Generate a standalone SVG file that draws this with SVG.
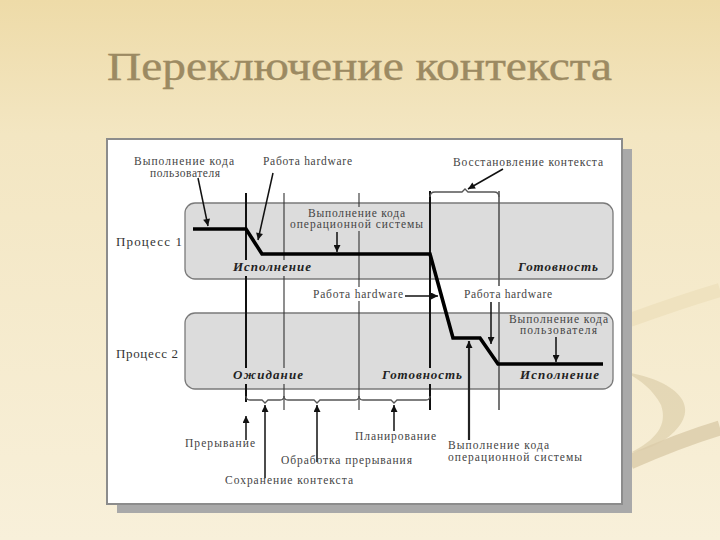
<svg xmlns="http://www.w3.org/2000/svg" width="720" height="540" viewBox="0 0 720 540">
<defs>
<linearGradient id="bg" x1="0" y1="0" x2="0" y2="1">
<stop offset="0" stop-color="#eedba8"/>
<stop offset="0.25" stop-color="#f3e6c2"/>
<stop offset="1" stop-color="#f8f0da"/>
</linearGradient>
<marker id="ah" viewBox="0 0 10 10" refX="10" refY="5" markerWidth="9" markerHeight="7" markerUnits="userSpaceOnUse" orient="auto">
<path d="M0,0 L10,5 L0,10 z" fill="#111"/>
</marker>
<style>
.lbl{font-family:"Liberation Serif","Times New Roman",serif;font-size:11.5px;fill:#444;}
.proc{font-family:"Liberation Serif","Times New Roman",serif;font-size:13px;fill:#333;}
.state{font-family:"Liberation Serif","Times New Roman",serif;font-size:13px;font-weight:bold;font-style:italic;fill:#222;}
.box{fill:#dcdcdc;stroke:#7a7a7a;stroke-width:1.3;}
.vthick{stroke:#111;stroke-width:2;fill:none;}
.vthin{stroke:#333;stroke-width:1.1;fill:none;}
.vgray{stroke:#555;stroke-width:1.6;fill:none;}
.brace{stroke:#555;stroke-width:1.3;fill:none;}
.arr{stroke:#111;stroke-width:1.5;fill:none;marker-end:url(#ah);}
.tl{stroke:#000;stroke-width:3.6;fill:none;stroke-linejoin:miter;}
</style>
</defs>

<g id="background">
<rect x="0" y="0" width="720" height="540" fill="url(#bg)"/>
<path d="M630,320 Q680,302 720,290" stroke="#efe2bf" stroke-width="14" fill="none"/>
<path d="M625,372 C675,380 702,405 674,432 C662,444 646,450 630,453 C656,440 668,425 661,405 C653,390 641,380 625,372 Z" fill="#d9caa3" opacity="0.6"/>
<path d="M630,462 Q680,440 720,428" stroke="#dccdaa" stroke-width="15" fill="none" opacity="0.85"/>
</g>

<g id="title">
<text x="107" y="80" font-family="'Liberation Serif','Times New Roman',serif" font-size="40" fill="#9c8a62" stroke="#9c8a62" stroke-width="0.4" textLength="505" lengthAdjust="spacingAndGlyphs">Переключение контекста</text>
</g>

<g id="panel">
<rect x="117" y="149" width="515" height="364" fill="#a9a9a9"/>
<rect x="107" y="139" width="515" height="365" fill="#ffffff" stroke="#8c8c8c" stroke-width="2"/>
</g>

<g id="process1">
<rect class="box" x="185" y="203" width="428" height="76" rx="10"/>
<text class="proc" x="116" y="246" textLength="66">Процесс 1</text>
</g>

<g id="process2">
<rect class="box" x="185" y="313" width="428" height="76" rx="10"/>
<text class="proc" x="116" y="358" textLength="62">Процесс 2</text>
</g>

<g id="connectors">
<path class="vthick" d="M246,193 V260 M246,276 V368 M246,384 V402"/>
<path class="vthin" d="M284,193 V260 M284,276 V368 M284,384 V410"/>
<path class="vthin" d="M359,193 V207 M359,231 V287 M359,301 V410"/>
<path class="vthick" d="M430,191 V368 M430,384 V410"/>
<path class="vgray" d="M499,191 V286 M499,302 V410"/>
<path class="brace" d="M430,197 Q430,192 435,192 L462,192 L465,189 L468,192 L494,192 Q499,192 499,197"/>
<path class="brace" d="M246,396 Q246,400 250,400 L262,400 L265,403 L268,400 L280,400 Q284,400 284,396"/>
<path class="brace" d="M284,396 Q284,400 288,400 L314,400 L317,403 L320,400 L355,400 Q359,400 359,396"/>
<path class="brace" d="M359,396 Q359,400 363,400 L391,400 L394,403 L397,400 L426,400 Q430,400 430,396"/>
<path class="tl" d="M193,229 L246,229 L262,254 L430,254 L453,338 L480,338 L498,364 L603,364"/>
<path class="arr" d="M198,178 L208,226"/>
<path class="arr" d="M273,173 L258,240"/>
<path class="arr" d="M503,169 L468,189"/>
<path class="arr" d="M337,232 L337,252"/>
<path class="arr" d="M405,296 L438,296"/>
<path class="arr" d="M491,302 L491,344"/>
<path class="arr" d="M556,337 L556,362"/>
<path class="arr" d="M246,440 L246,416"/>
<path class="arr" d="M265,478 L265,405"/>
<path class="arr" d="M317,462 L317,405"/>
<path class="arr" d="M394,431 L394,405"/>
<path class="arr" style="stroke:#222;stroke-width:2.2" d="M469,440 L469,341"/>
</g>

<g id="states">
<text class="state" x="233" y="271" textLength="78">Исполнение</text>
<text class="state" x="518" y="271" textLength="80">Готовность</text>
<text class="state" x="233" y="379" textLength="70">Ожидание</text>
<text class="state" x="382" y="379" textLength="80">Готовность</text>
<text class="state" x="520" y="379" textLength="79">Исполнение</text>
</g>

<g id="label-user-code-top">
<text class="lbl" x="134" y="165" textLength="100">Выполнение кода</text>
<text class="lbl" x="150" y="177" textLength="70">пользователя</text>
</g>
<g id="label-hw-top">
<text class="lbl" x="263" y="165" textLength="89">Работа hardware</text>
</g>
<g id="label-restore">
<text class="lbl" x="453" y="166" textLength="150">Восстановление контекста</text>
</g>
<g id="label-os-code-p1">
<text class="lbl" x="308" y="217" textLength="97">Выполнение кода</text>
<text class="lbl" x="290" y="228" textLength="133">операционной системы</text>
</g>
<g id="label-hw-mid">
<text class="lbl" x="313" y="298" textLength="90">Работа hardware</text>
</g>
<g id="label-hw-right">
<text class="lbl" x="464" y="298" textLength="88">Работа hardware</text>
</g>
<g id="label-user-code-p2">
<text class="lbl" x="509" y="323" textLength="99">Выполнение кода</text>
<text class="lbl" x="520" y="334" textLength="77">пользователя</text>
</g>
<g id="label-interrupt">
<text class="lbl" x="185" y="447" textLength="70">Прерывание</text>
</g>
<g id="label-scheduling">
<text class="lbl" x="355" y="440" textLength="81">Планирование</text>
</g>
<g id="label-os-code-bottom">
<text class="lbl" x="448" y="449" textLength="101">Выполнение кода</text>
<text class="lbl" x="448" y="461" textLength="134">операционной системы</text>
</g>
<g id="label-interrupt-handling">
<text class="lbl" x="281" y="464" textLength="131">Обработка прерывания</text>
</g>
<g id="label-save-context">
<text class="lbl" x="225" y="484" textLength="128">Сохранение контекста</text>
</g>
</svg>
